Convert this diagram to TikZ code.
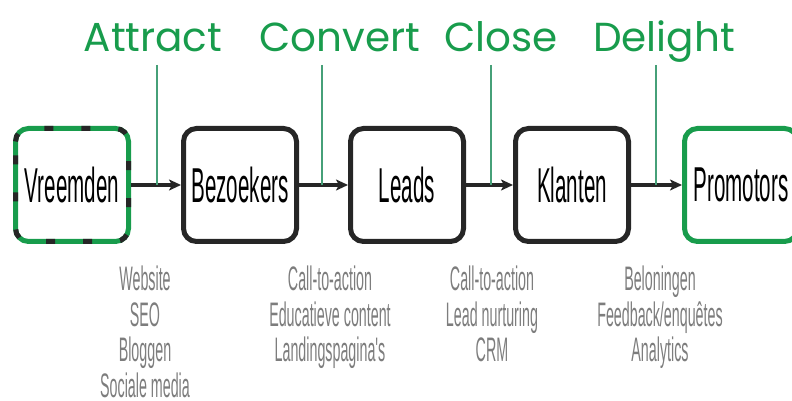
\documentclass[tikz,border=0pt]{standalone}
\usepackage{fontspec}
\setmainfont{Poppins}
\newfontfamily\narrowfont[FakeStretch=0.42]{Liberation Sans}
\usetikzlibrary{positioning,arrows.meta}
\definecolor{funnelgreen}{RGB}{24,156,76}
\definecolor{stemgreen}{RGB}{70,160,120}
\definecolor{notegray}{RGB}{125,125,125}

\begin{document}
\begin{tikzpicture}[x=1pt,y=1pt,>={Stealth[length=12pt,width=11pt,inset=3pt]},
		stage/.style={draw=black!85,line width=5pt,rounded corners=13pt,minimum width=113pt,minimum height=113pt,
			font=\narrowfont\fontsize{49}{49}\selectfont,inner sep=0pt},
		phase/.style={text=funnelgreen,font=\fontsize{40.5}{40.5}\selectfont,inner sep=0pt,anchor=base},
		note/.style={text=notegray,font=\narrowfont\fontsize{34}{35.5}\selectfont,align=center,anchor=north,inner sep=0pt},
		stem/.style={draw=stemgreen,line width=1.2pt}]
	\useasboundingbox (0,0) rectangle (792,401);
	% fasen
	\node[phase] (attract) at (153,349) {Attract};
	\node[phase] (convert) at (340,349) {Convert};
	\node[phase] (close) at (501,349) {Close};
	\node[phase] (delight) at (664,349) {Delight};
	
	% stappen
	\node[stage,draw=funnelgreen] (vreemden) at (72,216) {Vreemden};
	\node[stage] (bezoekers) at (240,216) {Bezoekers};
	\node[stage] (leads) at (407,216) {Leads};
	\node[stage] (klanten) at (572,216) {Klanten};
	\node[stage,draw=funnelgreen] (promotors) at (741,216) {Promotors};
	% zwarte streepjes op de eerste rand
	\draw[black!85,line width=5pt,rounded corners=13pt,dash pattern=on 9pt off 28pt,dash phase=-14pt]
		([shift={(2.5pt,-2.5pt)}]vreemden.north west) rectangle ([shift={(-2.5pt,2.5pt)}]vreemden.south east);
	
	\path[->,line width=4pt,draw=black!85]
	(vreemden) edge (bezoekers)
	(bezoekers) edge (leads)
	(leads) edge (klanten)
	(klanten) edge (promotors);
	
	% lijntjes naar de pijlen
	\coordinate (s1) at (157,336);
	\coordinate (s2) at (322,336);
	\coordinate (s3) at (491,336);
	\coordinate (s4) at (656,336);
	\draw[stem] (s1) -- (s1 |- vreemden.east);
	\draw[stem] (s2) -- (s2 |- vreemden.east);
	\draw[stem] (s3) -- (s3 |- vreemden.east);
	\draw[stem] (s4) -- (s4 |- vreemden.east);
	
	% middelen per fase
	\node[note] (n1) at (145,135) {Website\\SEO\\Bloggen\\Sociale media};
	\node[note] (n2) at (330,135) {Call-to-action\\Educatieve content\\Landingspagina's};
	\node[note] (n3) at (492,135) {Call-to-action\\Lead nurturing\\CRM};
	\node[note] (n4) at (660,135) {Beloningen\\Feedback/enquêtes\\Analytics};
\end{tikzpicture}
\end{document}
